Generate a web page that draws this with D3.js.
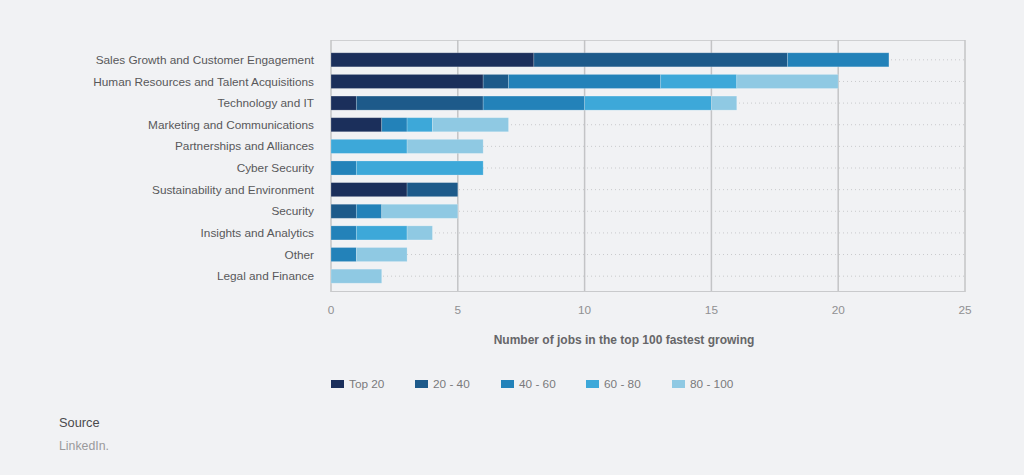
<!DOCTYPE html>
<html><head><meta charset="utf-8">
<script src="https://cdn.jsdelivr.net/npm/d3@7"></script>
<style>body{margin:0;background:#f1f2f4;}svg{display:block;font-family:"Liberation Sans",Arial,sans-serif;}</style>
</head><body><svg id="c" width="1024" height="475"></svg>
<script>
const categories = ["Sales Growth and Customer Engagement","Human Resources and Talent Acquisitions","Technology and IT","Marketing and Communications","Partnerships and Alliances","Cyber Security","Sustainability and Environment","Security","Insights and Analytics","Other","Legal and Finance"];
const seriesNames = ["Top 20","20 - 40","40 - 60","60 - 80","80 - 100"];
const top20   = [8,6,1,2,0,0,3,0,0,0,0];
const r20_40  = [10,1,5,0,0,0,2,1,0,0,0];
const r40_60  = [4,6,4,1,0,1,0,1,1,1,0];
const r60_80  = [0,3,5,1,3,5,0,0,2,0,0];
const r80_100 = [0,4,1,3,3,0,0,3,1,2,2];
const xTicks = [0,5,10,15,20,25];
const colors = ["#1b2f5b","#1d5a8a","#2382b9","#3da8d9","#8fc9e3"];

const rows = categories.map((c,i)=>({cat:c, vals:[top20[i],r20_40[i],r40_60[i],r60_80[i],r80_100[i]]}));
const keys = [0,1,2,3,4];
const stack = d3.stack().keys(keys).value((d,k)=>d.vals[k])(rows);

const svg = d3.select("#c");
const x = d3.scaleLinear().domain([0,25]).range([331,965]);
const y = d3.scaleBand().domain(categories).range([49,287]).paddingInner(0.35).paddingOuter(0.175);

svg.append("line").attr("x1",331).attr("x2",965).attr("y1",40.5).attr("y2",40.5).attr("stroke","#cfd0d2").attr("stroke-width",1);
svg.append("g").selectAll("line").data(categories).join("line")
  .attr("x1",331).attr("x2",965)
  .attr("y1",d=>y(d)+y.bandwidth()/2).attr("y2",d=>y(d)+y.bandwidth()/2)
  .attr("stroke","#c9cacc").attr("stroke-width",1).attr("stroke-dasharray","1,3");
svg.append("g").selectAll("line").data(xTicks).join("line")
  .attr("x1",d=>x(d)).attr("x2",d=>x(d)).attr("y1",40).attr("y2",292)
  .attr("stroke","#c3c4c6").attr("stroke-width",1.5);
svg.append("line").attr("x1",331).attr("x2",965).attr("y1",291.5).attr("y2",291.5).attr("stroke","#c9cacc").attr("stroke-width",1);

svg.append("g").selectAll("g").data(stack).join("g")
  .attr("fill",(s,i)=>colors[i])
  .selectAll("rect").data(s=>s.filter(d=>d[1]>d[0])).join("rect")
  .attr("x",d=>x(d[0])).attr("width",d=>x(d[1])-x(d[0]))
  .attr("y",d=>y(d.data.cat)).attr("height",y.bandwidth())
  .attr("stroke","rgba(255,255,255,0.25)").attr("stroke-width",0.8);

svg.append("g").selectAll("text").data(categories).join("text")
  .attr("x",314).attr("y",d=>y(d)+y.bandwidth()/2).attr("dy","0.35em")
  .attr("text-anchor","end").attr("font-size",11.8).attr("fill","#58585a").text(d=>d);

svg.append("g").selectAll("text").data(xTicks).join("text")
  .attr("x",d=>x(d)).attr("y",314).attr("text-anchor","middle")
  .attr("font-size",11.8).attr("fill","#909092").text(d=>d);

svg.append("text").attr("x",624).attr("y",344).attr("text-anchor","middle")
  .attr("font-size",12).attr("font-weight","bold").attr("fill","#666668")
  .text("Number of jobs in the top 100 fastest growing");

const legX = [331,415,501,586,672];
const lg = svg.append("g").selectAll("g").data(seriesNames).join("g")
  .attr("transform",(d,i)=>`translate(${legX[i]},384)`);
lg.append("rect").attr("x",0).attr("y",-4).attr("width",13).attr("height",8).attr("fill",(d,i)=>colors[i]);
lg.append("text").attr("x",18).attr("y",0).attr("dy","0.35em").attr("font-size",11.8).attr("fill","#7a7a7c").text(d=>d);

svg.append("text").attr("x",59).attr("y",427).attr("font-size",12.8).attr("fill","#4a4a4c").text("Source");
svg.append("text").attr("x",59).attr("y",450).attr("font-size",12.3).attr("fill","#9a9a9c").text("LinkedIn.");
</script></body></html>
